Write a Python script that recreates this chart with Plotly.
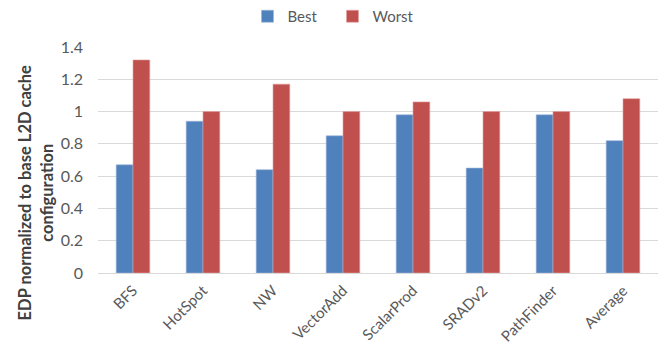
import plotly.graph_objects as go

categories = ["BFS", "HotSpot", "NW", "VectorAdd", "ScalarProd", "SRADv2", "PathFinder", "Average"]
best = [0.67, 0.94, 0.64, 0.85, 0.98, 0.65, 0.98, 0.82]
worst = [1.32, 1.00, 1.17, 1.00, 1.06, 1.00, 1.00, 1.08]
y_ticks = [0, 0.2, 0.4, 0.6, 0.8, 1.0, 1.2, 1.4]
y_tick_text = ["0", "0.2", "0.4", "0.6", "0.8", "1", "1.2", "1.4"]
y_title = "EDP normalized to base L2D cache<br>configuration"

font_family = "Lato, 'Open Sans', sans-serif"
text_color = "#595959"

fig = go.Figure()
fig.add_trace(go.Bar(name="Best", x=categories, y=best,
                     marker=dict(color="#4F81BD", line=dict(color="#9DB5DA", width=0.6))))
fig.add_trace(go.Bar(name="Worst", x=categories, y=worst,
                     marker=dict(color="#C0504D", line=dict(color="#E4A3A1", width=0.6))))

fig.update_layout(
    width=665, height=351,
    margin=dict(l=98, r=7, t=47, b=78, autoexpand=False),
    paper_bgcolor="white", plot_bgcolor="white",
    barmode="group", bargap=0.52, bargroupgap=0,
    font=dict(family=font_family, size=15, color=text_color),
    legend=dict(orientation="h", xref="container", x=0.5, xanchor="center",
                y=1.0, yanchor="top", yref="container",
                font=dict(size=15, color=text_color),
                itemwidth=30, entrywidth=40, entrywidthmode="pixels", tracegroupgap=0),
    xaxis=dict(tickangle=-45, showline=True, linecolor="#D9D9D9", linewidth=1,
               automargin=False,
               ticks="", ticklabelstandoff=2, tickfont=dict(size=15, color=text_color)),
    yaxis=dict(range=[0, 1.4], tickvals=y_ticks, ticktext=y_tick_text,
               showgrid=True, gridcolor="#D9D9D9", gridwidth=1, zeroline=False,
               automargin=False,
               ticks="", ticklabelstandoff=14,
               tickfont=dict(size=16, color=text_color)),
    annotations=[dict(text=y_title, textangle=-90, showarrow=False,
                      xref="paper", x=-0.11, xanchor="center",
                      yref="paper", y=0.354, yanchor="middle",
                      font=dict(size=16.5, color="#404040", family=font_family, weight="bold"))],
)

fig.write_html("out.html")
